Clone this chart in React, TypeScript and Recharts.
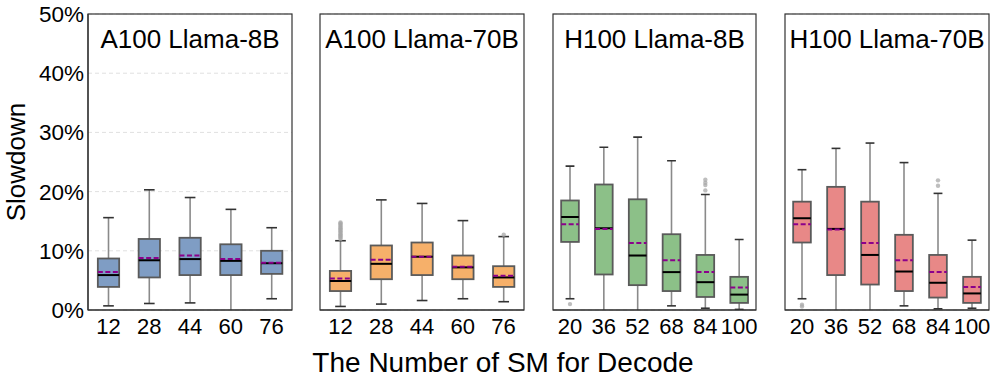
import React from 'react';
import { ComposedChart, Bar, XAxis, YAxis, CartesianGrid } from 'recharts';

const FONT = '"Liberation Sans", Arial, Helvetica, sans-serif';

// ---- Y axis ticks ----
const yTicks = [0, 10, 20, 30, 40, 50];

// ---- A100 Llama-8B ----
const a100s_sm = ['12', '28', '44', '60', '76'];
const a100s_low = [0.7, 1.1, 1.2, -1.0, 1.9];
const a100s_q1 = [3.9, 5.5, 5.9, 5.9, 6.1];
const a100s_median = [5.9, 8.4, 8.6, 8.3, 7.9];
const a100s_mean = [6.4, 8.8, 9.2, 8.6, 8.0];
const a100s_q3 = [8.7, 12.0, 12.2, 11.1, 10.0];
const a100s_high = [15.6, 20.3, 19.0, 17.0, 13.9];
const a100s_out: number[][] = [[], [], [], [], []];

// ---- A100 Llama-70B ----
const a100l_sm = ['12', '28', '44', '60', '76'];
const a100l_low = [0.6, 1.0, 1.6, 1.9, 1.4];
const a100l_q1 = [3.2, 5.2, 5.9, 5.2, 3.9];
const a100l_median = [4.9, 7.8, 9.0, 7.2, 5.5];
const a100l_mean = [5.3, 8.5, 9.0, 7.3, 5.8];
const a100l_q3 = [6.6, 10.9, 11.4, 9.2, 7.4];
const a100l_high = [11.7, 18.6, 18.0, 15.1, 12.4];
const a100l_out: number[][] = [
  [12.0, 12.2, 12.4, 12.6, 12.8, 13.0, 13.2, 13.4, 13.6, 13.8, 14.0, 14.2, 14.4, 14.6, 14.8],
  [],
  [],
  [],
  [12.7],
];

// ---- H100 Llama-8B ----
const h100s_sm = ['20', '36', '52', '68', '84', '100'];
const h100s_low = [1.9, -2.0, -2.0, 0.7, 0.3, 0.1];
const h100s_q1 = [11.5, 6.0, 4.2, 3.2, 2.2, 1.2];
const h100s_median = [15.7, 13.8, 9.2, 6.4, 4.7, 2.6];
const h100s_mean = [14.5, 13.7, 11.3, 8.4, 6.4, 3.8];
const h100s_q3 = [18.5, 21.2, 18.7, 12.8, 9.3, 5.6];
const h100s_high = [24.3, 27.5, 29.2, 25.2, 19.5, 11.9];
const h100s_out: number[][] = [[1.0], [], [], [], [20.2, 21.1, 21.5, 22.0], []];

// ---- H100 Llama-70B ----
const h100l_sm = ['20', '36', '52', '68', '84', '100'];
const h100l_low = [1.9, -2.0, -2.0, 0.7, 0.2, 0.3];
const h100l_q1 = [11.4, 5.9, 4.3, 3.2, 2.1, 1.2];
const h100l_median = [15.5, 13.7, 9.3, 6.5, 4.6, 2.8];
const h100l_mean = [14.5, 13.6, 11.3, 8.4, 6.4, 3.9];
const h100l_q3 = [18.3, 20.8, 18.3, 12.7, 9.3, 5.6];
const h100l_high = [23.7, 27.3, 28.2, 24.9, 19.7, 11.8];
const h100l_out: number[][] = [[0.9, 0.6], [], [], [], [21.0, 21.9], []];

type Row = {
  sm: string;
  low: number;
  q1: number;
  median: number;
  mean: number;
  q3: number;
  high: number;
  outliers: number[];
};

function buildRows(
  sm: string[],
  low: number[],
  q1: number[],
  median: number[],
  mean: number[],
  q3: number[],
  high: number[],
  outliers: number[][]
): Row[] {
  return sm.map((s, i) => ({
    sm: s,
    low: low[i],
    q1: q1[i],
    median: median[i],
    mean: mean[i],
    q3: q3[i],
    high: high[i],
    outliers: outliers[i],
  }));
}

const BoxShape = (props: any) => {
  const { x, y, width, height, payload, fill } = props;
  if (!payload || !isFinite(y) || !isFinite(height)) return null;
  const { low, high, q1, q3, median, mean, outliers } = payload as Row;
  // linear mapping derived from the library-placed whisker range [low, high]
  const k = height / (high - low);
  const py = (v: number) => y + (high - v) * k;
  const cx = x + width / 2;
  const bw = width * 0.52;
  const cw = bw * 0.5;
  const yLow = py(low);
  const yHigh = py(high);
  const yQ1 = py(q1);
  const yQ3 = py(q3);
  return (
    <g>
      <line x1={cx} x2={cx} y1={yHigh} y2={yQ3} stroke="#8a8a8a" strokeWidth={1.6} />
      <line x1={cx} x2={cx} y1={yQ1} y2={yLow} stroke="#8a8a8a" strokeWidth={1.6} />
      <line x1={cx - cw / 2} x2={cx + cw / 2} y1={yHigh} y2={yHigh} stroke="#333" strokeWidth={1.6} />
      <line x1={cx - cw / 2} x2={cx + cw / 2} y1={yLow} y2={yLow} stroke="#333" strokeWidth={1.6} />
      <rect
        x={cx - bw / 2}
        y={yQ3}
        width={bw}
        height={yQ1 - yQ3}
        fill={fill}
        stroke="#5a5a5a"
        strokeWidth={1.8}
      />
      <line x1={cx - bw / 2} x2={cx + bw / 2} y1={py(median)} y2={py(median)} stroke="#000" strokeWidth={2} />
      <line
        x1={cx - bw / 2}
        x2={cx + bw / 2}
        y1={py(mean)}
        y2={py(mean)}
        stroke="#8b008b"
        strokeWidth={2}
        strokeDasharray="5 2.5"
      />
      {outliers.map((o, i) => (
        <circle key={i} cx={cx} cy={py(o)} r={2.2} fill="#a8a8a8" fillOpacity={0.75} />
      ))}
    </g>
  );
};

const axisLineStyle = { stroke: '#333', strokeWidth: 1.2 };

const PLOT_TOP = 14;
const PLOT_BOTTOM = 310;

type PanelProps = {
  rows: Row[];
  plotLeft: number;
  plotWidth: number;
  fill: string;
  showTicks: boolean;
};

function Panel({ rows, plotLeft, plotWidth, fill, showTicks }: PanelProps) {
  const yAxisW = showTicks ? plotLeft : 0;
  const ml = showTicks ? 0 : 2;
  const chartLeft = showTicks ? 0 : plotLeft - 2;
  const width = yAxisW + ml + plotWidth + 2;
  return (
    <div style={{ position: 'absolute', left: chartLeft, top: 0 }}>
      <ComposedChart
        width={width}
        height={384}
        data={rows}
        margin={{ top: PLOT_TOP, right: 2, bottom: 0, left: ml }}
        barCategoryGap={0}
        barGap={0}
      >
        <CartesianGrid vertical={false} stroke="#e0e0e0" strokeDasharray="4 3" />
        <XAxis
          dataKey="sm"
          interval={0}
          tickLine={false}
          axisLine={axisLineStyle}
          height={384 - PLOT_BOTTOM}
          tick={{ fontSize: 22, fill: '#000', fontFamily: FONT }}
        />
        <YAxis
          domain={[0, 50]}
          ticks={yTicks}
          allowDataOverflow
          tickFormatter={(v: number) => `${v}%`}
          width={yAxisW}
          tick={showTicks ? { fontSize: 22.5, fill: '#000', fontFamily: FONT } : false}
          tickLine={false}
          tickSize={2}
          tickMargin={2}
          axisLine={axisLineStyle}
        />
        <Bar
          dataKey={(d: Row) => [d.low, d.high]}
          fill={fill}
          shape={<BoxShape />}
          isAnimationActive={false}
        />
      </ComposedChart>
    </div>
  );
}

const panels = [
  {
    title: 'A100 Llama-8B',
    rows: buildRows(a100s_sm, a100s_low, a100s_q1, a100s_median, a100s_mean, a100s_q3, a100s_high, a100s_out),
    plotLeft: 88,
    plotWidth: 204,
    fill: '#7f9dc4',
  },
  {
    title: 'A100 Llama-70B',
    rows: buildRows(a100l_sm, a100l_low, a100l_q1, a100l_median, a100l_mean, a100l_q3, a100l_high, a100l_out),
    plotLeft: 320,
    plotWidth: 204,
    fill: '#f6b06a',
  },
  {
    title: 'H100 Llama-8B',
    rows: buildRows(h100s_sm, h100s_low, h100s_q1, h100s_median, h100s_mean, h100s_q3, h100s_high, h100s_out),
    plotLeft: 553,
    plotWidth: 203,
    fill: '#8cc088',
  },
  {
    title: 'H100 Llama-70B',
    rows: buildRows(h100l_sm, h100l_low, h100l_q1, h100l_median, h100l_mean, h100l_q3, h100l_high, h100l_out),
    plotLeft: 785,
    plotWidth: 204,
    fill: '#e88887',
  },
];

export default function App() {
  return (
    <div
      style={{
        position: 'fixed',
        left: 0,
        top: 0,
        width: 997,
        height: 384,
        background: '#fff',
        overflow: 'hidden',
        fontFamily: FONT,
      }}
    >
      {panels.map((p, i) => (
        <Panel
          key={p.title}
          rows={p.rows}
          plotLeft={p.plotLeft}
          plotWidth={p.plotWidth}
          fill={p.fill}
          showTicks={i === 0}
        />
      ))}
      <svg
        width={997}
        height={384}
        style={{ position: 'absolute', left: 0, top: 0, pointerEvents: 'none' }}
      >
        {panels.map((p) => (
          <g key={p.title}>
            <rect
              x={p.plotLeft}
              y={PLOT_TOP}
              width={p.plotWidth}
              height={PLOT_BOTTOM - PLOT_TOP}
              fill="none"
              stroke="#333"
              strokeWidth={1.2}
            />
            <text
              x={p.plotLeft + p.plotWidth / 2}
              y={48}
              textAnchor="middle"
              fontSize={26}
              fontFamily={FONT}
              fill="#000"
            >
              {p.title}
            </text>
          </g>
        ))}
        <text
          x={503}
          y={372}
          textAnchor="middle"
          fontSize={28}
          fontFamily={FONT}
          fill="#000"
        >
          The Number of SM for Decode
        </text>
        <text
          transform="translate(25,162) rotate(-90)"
          textAnchor="middle"
          fontSize={26}
          fontFamily={FONT}
          fill="#000"
        >
          Slowdown
        </text>
      </svg>
    </div>
  );
}
